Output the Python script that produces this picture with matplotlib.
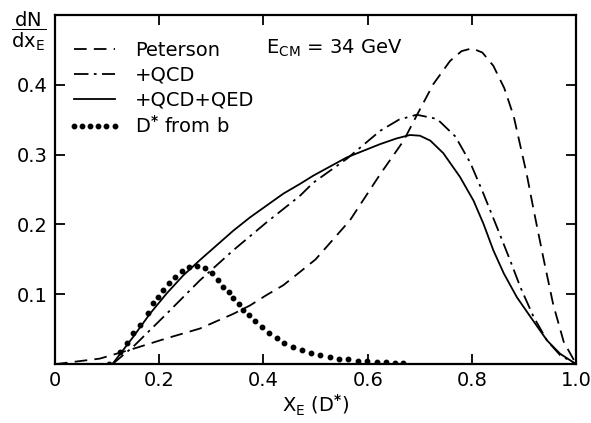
import numpy as np
import matplotlib
matplotlib.use("Agg")
import matplotlib.pyplot as plt

plt.rcParams['font.family'] = ['DejaVu Sans']
plt.rcParams['mathtext.fontset'] = 'dejavusans'

# Peterson fragmentation (dashed)
pet_x = [0.0, 0.086, 0.15, 0.214, 0.278, 0.342, 0.374, 0.406, 0.438, 0.47, 0.50, 0.566,
         0.624, 0.669, 0.694, 0.726, 0.758, 0.78, 0.80, 0.82, 0.841, 0.862, 0.88, 0.905,
         0.918, 0.937, 0.956, 0.976, 1.0]
pet_y = [0.0, 0.008, 0.022, 0.037, 0.051, 0.072, 0.084, 0.099, 0.113, 0.132, 0.150, 0.206,
         0.272, 0.320, 0.356, 0.401, 0.434, 0.448, 0.452, 0.446, 0.427, 0.395, 0.355, 0.272,
         0.222, 0.152, 0.085, 0.032, 0.0]

# + QCD (dash-dot)
qcd_x = [0.11, 0.15, 0.214, 0.278, 0.342, 0.406, 0.47, 0.496, 0.56, 0.624, 0.66, 0.694,
         0.733, 0.768, 0.797, 0.822, 0.848, 0.873, 0.893, 0.918, 0.944, 0.969, 1.0]
qcd_y = [0.0, 0.025, 0.072, 0.120, 0.163, 0.203, 0.241, 0.260, 0.294, 0.334, 0.350, 0.357,
         0.351, 0.326, 0.288, 0.244, 0.196, 0.149, 0.110, 0.068, 0.034, 0.013, 0.0]

# + QCD + QED (solid)
qed_x = [0.11, 0.15, 0.182, 0.214, 0.246, 0.278, 0.31, 0.342, 0.374, 0.406, 0.438, 0.47,
         0.496, 0.56, 0.624, 0.655, 0.681, 0.70, 0.72, 0.745, 0.777, 0.803, 0.822, 0.841,
         0.861, 0.886, 0.912, 0.944, 0.969, 1.0]
qed_y = [0.0, 0.039, 0.072, 0.101, 0.127, 0.149, 0.170, 0.191, 0.210, 0.227, 0.244, 0.258,
         0.270, 0.296, 0.315, 0.323, 0.328, 0.327, 0.320, 0.302, 0.268, 0.234, 0.201, 0.163,
         0.130, 0.096, 0.068, 0.034, 0.015, 0.0]

# D* from b (dots)
dstar_x = [0.104, 0.125, 0.138, 0.150, 0.163, 0.179, 0.1875, 0.198, 0.208, 0.219, 0.230,
           0.243, 0.258, 0.273, 0.288, 0.301, 0.312, 0.323, 0.333, 0.342, 0.353, 0.361,
           0.372, 0.384, 0.397, 0.411, 0.426, 0.440, 0.457, 0.473, 0.491, 0.509, 0.527,
           0.545, 0.563, 0.582, 0.599, 0.617, 0.635, 0.652, 0.668]
dstar_y = [0.0, 0.018, 0.030, 0.044, 0.056, 0.073, 0.087, 0.096, 0.106, 0.116, 0.125,
           0.133, 0.139, 0.141, 0.138, 0.130, 0.120, 0.111, 0.103, 0.095, 0.086, 0.078,
           0.070, 0.062, 0.053, 0.045, 0.038, 0.031, 0.025, 0.020, 0.016, 0.013, 0.010,
           0.008, 0.007, 0.005, 0.004, 0.003, 0.003, 0.002, 0.002]

x_ticks = [0, 0.2, 0.4, 0.6, 0.8, 1.0]
x_labels = ['0', '0.2', '0.4', '0.6', '0.8', '1.0']
y_ticks = [0.1, 0.2, 0.3, 0.4]
y_labels = ['0.1', '0.2', '0.3', '0.4']

fig = plt.figure(figsize=(5.91, 4.23), dpi=100)
ax = fig.add_axes([0.093, 0.139, 0.882, 0.826])

lw = 1.3
ax.plot(pet_x, pet_y, color='black', lw=lw, linestyle=(0, (7, 4)), label='Peterson')
ax.plot(qcd_x, qcd_y, color='black', lw=lw, linestyle=(0, (8, 3, 1.5, 3)), label='+QCD')
ax.plot(qed_x, qed_y, color='black', lw=lw, linestyle='-', label='+QCD+QED')
ax.plot(dstar_x, dstar_y, color='black', linestyle='none', marker='o', markersize=3.2,
        label=r'D$^{\bf{*}}$ from b')

ax.set_xlim(0, 1.0)
ax.set_ylim(0, 0.5)
ax.set_xticks(x_ticks)
ax.set_xticklabels(x_labels, fontsize=14)
ax.set_yticks(y_ticks)
ax.set_yticklabels(y_labels, fontsize=14)
ax.tick_params(direction='in', length=7, width=1.3, top=True, right=True, pad=5)
for s in ax.spines.values():
    s.set_linewidth(1.6)

ax.legend(loc='upper left', bbox_to_anchor=(0.01, 0.948), frameon=False, fontsize=14,
          numpoints=6, handlelength=2.7, handletextpad=0.75, labelspacing=0.3,
          borderaxespad=0.0)

ax.text(0.405, 0.452, r'E$_{\rm CM}$ = 34 GeV', fontsize=14, ha='left', va='center')

fig.text(0.048, 0.925, r'$\dfrac{\mathrm{dN}}{\mathrm{dx_E}}$', fontsize=14,
         ha='center', va='center')
ax.set_xlabel(r'X$_{\rm E}$ (D$^{\bf{*}}$)', fontsize=14, labelpad=2)

fig.savefig('out.png', dpi=100)
